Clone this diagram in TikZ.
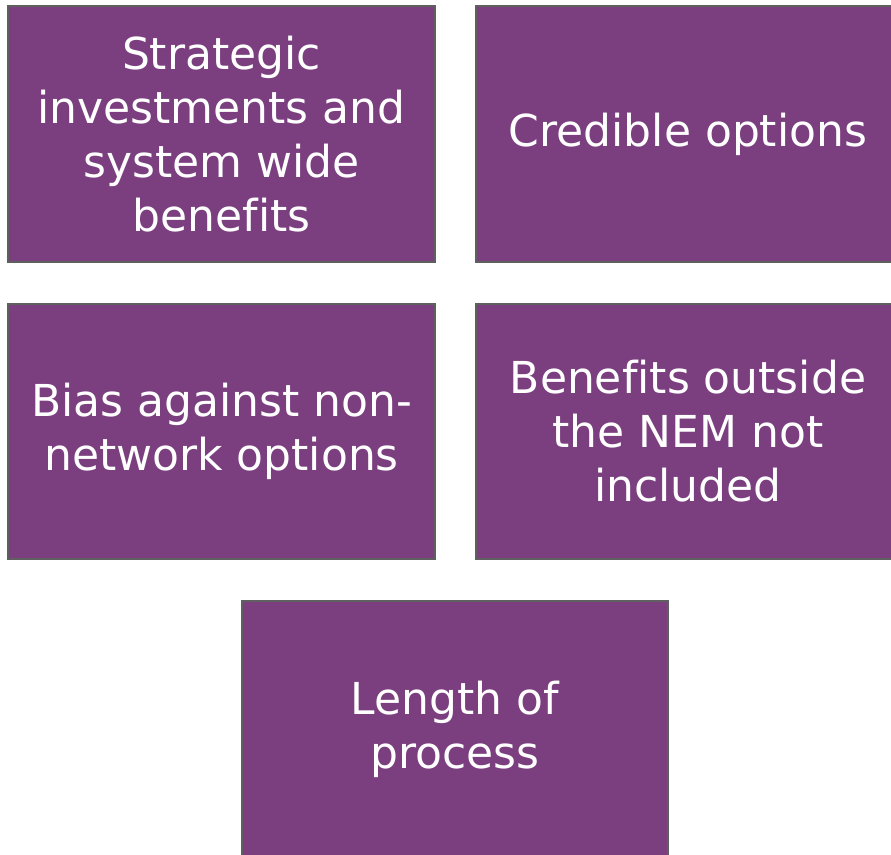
\documentclass[tikz,border=0pt]{standalone}
\usepackage{fontspec}
\setmainfont{DejaVu Sans}[Ligatures=NoCommon]
\definecolor{boxfill}{HTML}{7B3F80}
\definecolor{boxline}{HTML}{5F5F5F}
\begin{document}
\begin{tikzpicture}[x=1pt,y=-1pt,
  card/.style={draw=boxline, line width=2pt, fill=boxfill},
  label/.style={text=white, align=center, font=\fontsize{44}{54}\selectfont}]
\useasboundingbox (0,0) rectangle (891,854);
\fill[white] (0,0) rectangle (891,854);
\draw[card] (8,6) rectangle (435,262);
\draw[card] (476,6) rectangle (895,262);
\draw[card] (8,304) rectangle (435,559);
\draw[card] (476,304) rectangle (895,559);
\draw[card] (242,601) rectangle (668,858);
\node[label] (a) at (221.5,134) {Strategic\\investments and\\system wide\\benefits};
\node[label] (b) at (688,134) {Credible options};
\node[label] (c) at (221.5,431) {Bias against non-\\network options};
\node[label] (d) at (688,431) {Benefits outside\\the NEM not\\included};
\node[label] (e) at (455,729) {Length of\\process};
\end{tikzpicture}
\end{document}
